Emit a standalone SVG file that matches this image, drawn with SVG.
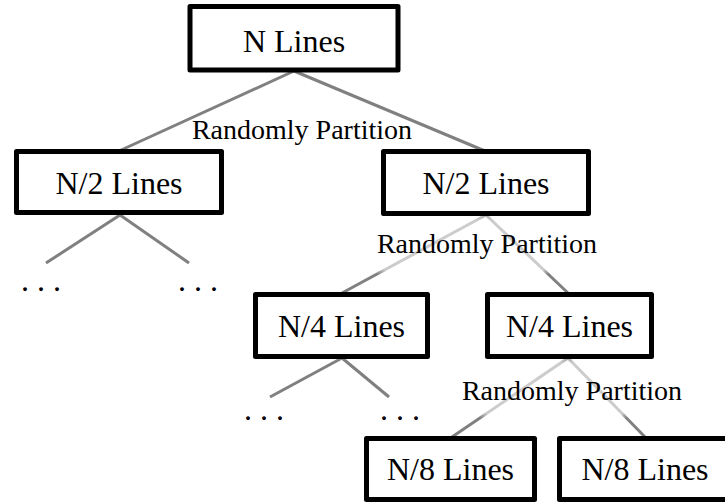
<svg xmlns="http://www.w3.org/2000/svg" width="725" height="503" viewBox="0 0 725 503">
<style>
.box{fill:#fff;stroke:#000;stroke-width:5;stroke-linejoin:round}
text{font-family:'Liberation Serif','Times New Roman',serif;fill:#000;text-anchor:middle}
.lbl{font-size:32px}
.part{font-size:28px}
.dots{font-size:32px}
.edge{stroke-width:3;fill:none}
.dk{stroke:#808080}
.fl{stroke:url(#gL)}
.fr{stroke:url(#gR)}
</style>
<defs>
<linearGradient id="gL" x1="1" y1="0" x2="0" y2="1">
<stop offset="0" stop-color="#a8a8a8"/>
<stop offset="0.06" stop-color="#cccccc"/>
<stop offset="0.70" stop-color="#cccccc"/>
<stop offset="0.76" stop-color="#808080"/>
<stop offset="1" stop-color="#808080"/>
</linearGradient>
<linearGradient id="gR" x1="0" y1="0" x2="1" y2="1">
<stop offset="0" stop-color="#a8a8a8"/>
<stop offset="0.06" stop-color="#cccccc"/>
<stop offset="0.70" stop-color="#cccccc"/>
<stop offset="0.76" stop-color="#808080"/>
<stop offset="1" stop-color="#808080"/>
</linearGradient>
</defs>
<g id="connectors">
<line class="edge dk" x1="294" y1="71" x2="119" y2="151"/>
<line class="edge dk" x1="294" y1="71" x2="485" y2="151"/>
<line class="edge dk" x1="120" y1="215" x2="46" y2="263"/>
<line class="edge dk" x1="120" y1="215" x2="189" y2="263"/>
<line class="edge fl" x1="486" y1="215" x2="342" y2="293"/>
<line class="edge fr" x1="486" y1="215" x2="568" y2="293"/>
<line class="edge dk" x1="342" y1="358" x2="270" y2="397"/>
<line class="edge dk" x1="342" y1="358" x2="389" y2="397"/>
<line class="edge fl" x1="568" y1="358" x2="452" y2="437"/>
<line class="edge fr" x1="568" y1="358" x2="645" y2="437"/>
</g>
<g id="labels">
<text class="part" x="302" y="139">Randomly Partition</text>
<text class="part" x="487" y="253">Randomly Partition</text>
<text class="part" x="572" y="400">Randomly Partition</text>
<text class="dots" x="41" y="291">. . .</text>
<text class="dots" x="198" y="291">. . .</text>
<text class="dots" x="264" y="420">. . .</text>
<text class="dots" x="400" y="420">. . .</text>
</g>
<g id="n1">
<rect class="box" x="190" y="6.5" width="208" height="63.5"/>
<text class="lbl" x="294" y="52">N Lines</text>
</g>
<g id="n2a">
<rect class="box" x="16.5" y="151.5" width="205" height="61"/>
<text class="lbl" x="119" y="194">N/2 Lines</text>
</g>
<g id="n2b">
<rect class="box" x="383.5" y="151.5" width="205" height="62"/>
<text class="lbl" x="486" y="194">N/2 Lines</text>
</g>
<g id="n4a">
<rect class="box" x="255.5" y="294.5" width="172" height="62"/>
<text class="lbl" x="341.5" y="337">N/4 Lines</text>
</g>
<g id="n4b">
<rect class="box" x="487.5" y="294.5" width="164" height="62"/>
<text class="lbl" x="569.5" y="337">N/4 Lines</text>
</g>
<g id="n8a">
<rect class="box" x="366.5" y="438.5" width="168" height="61"/>
<text class="lbl" x="450.5" y="480">N/8 Lines</text>
</g>
<g id="n8b">
<rect class="box" x="559.5" y="438.5" width="172" height="61"/>
<text class="lbl" x="645" y="480">N/8 Lines</text>
</g>
</svg>
